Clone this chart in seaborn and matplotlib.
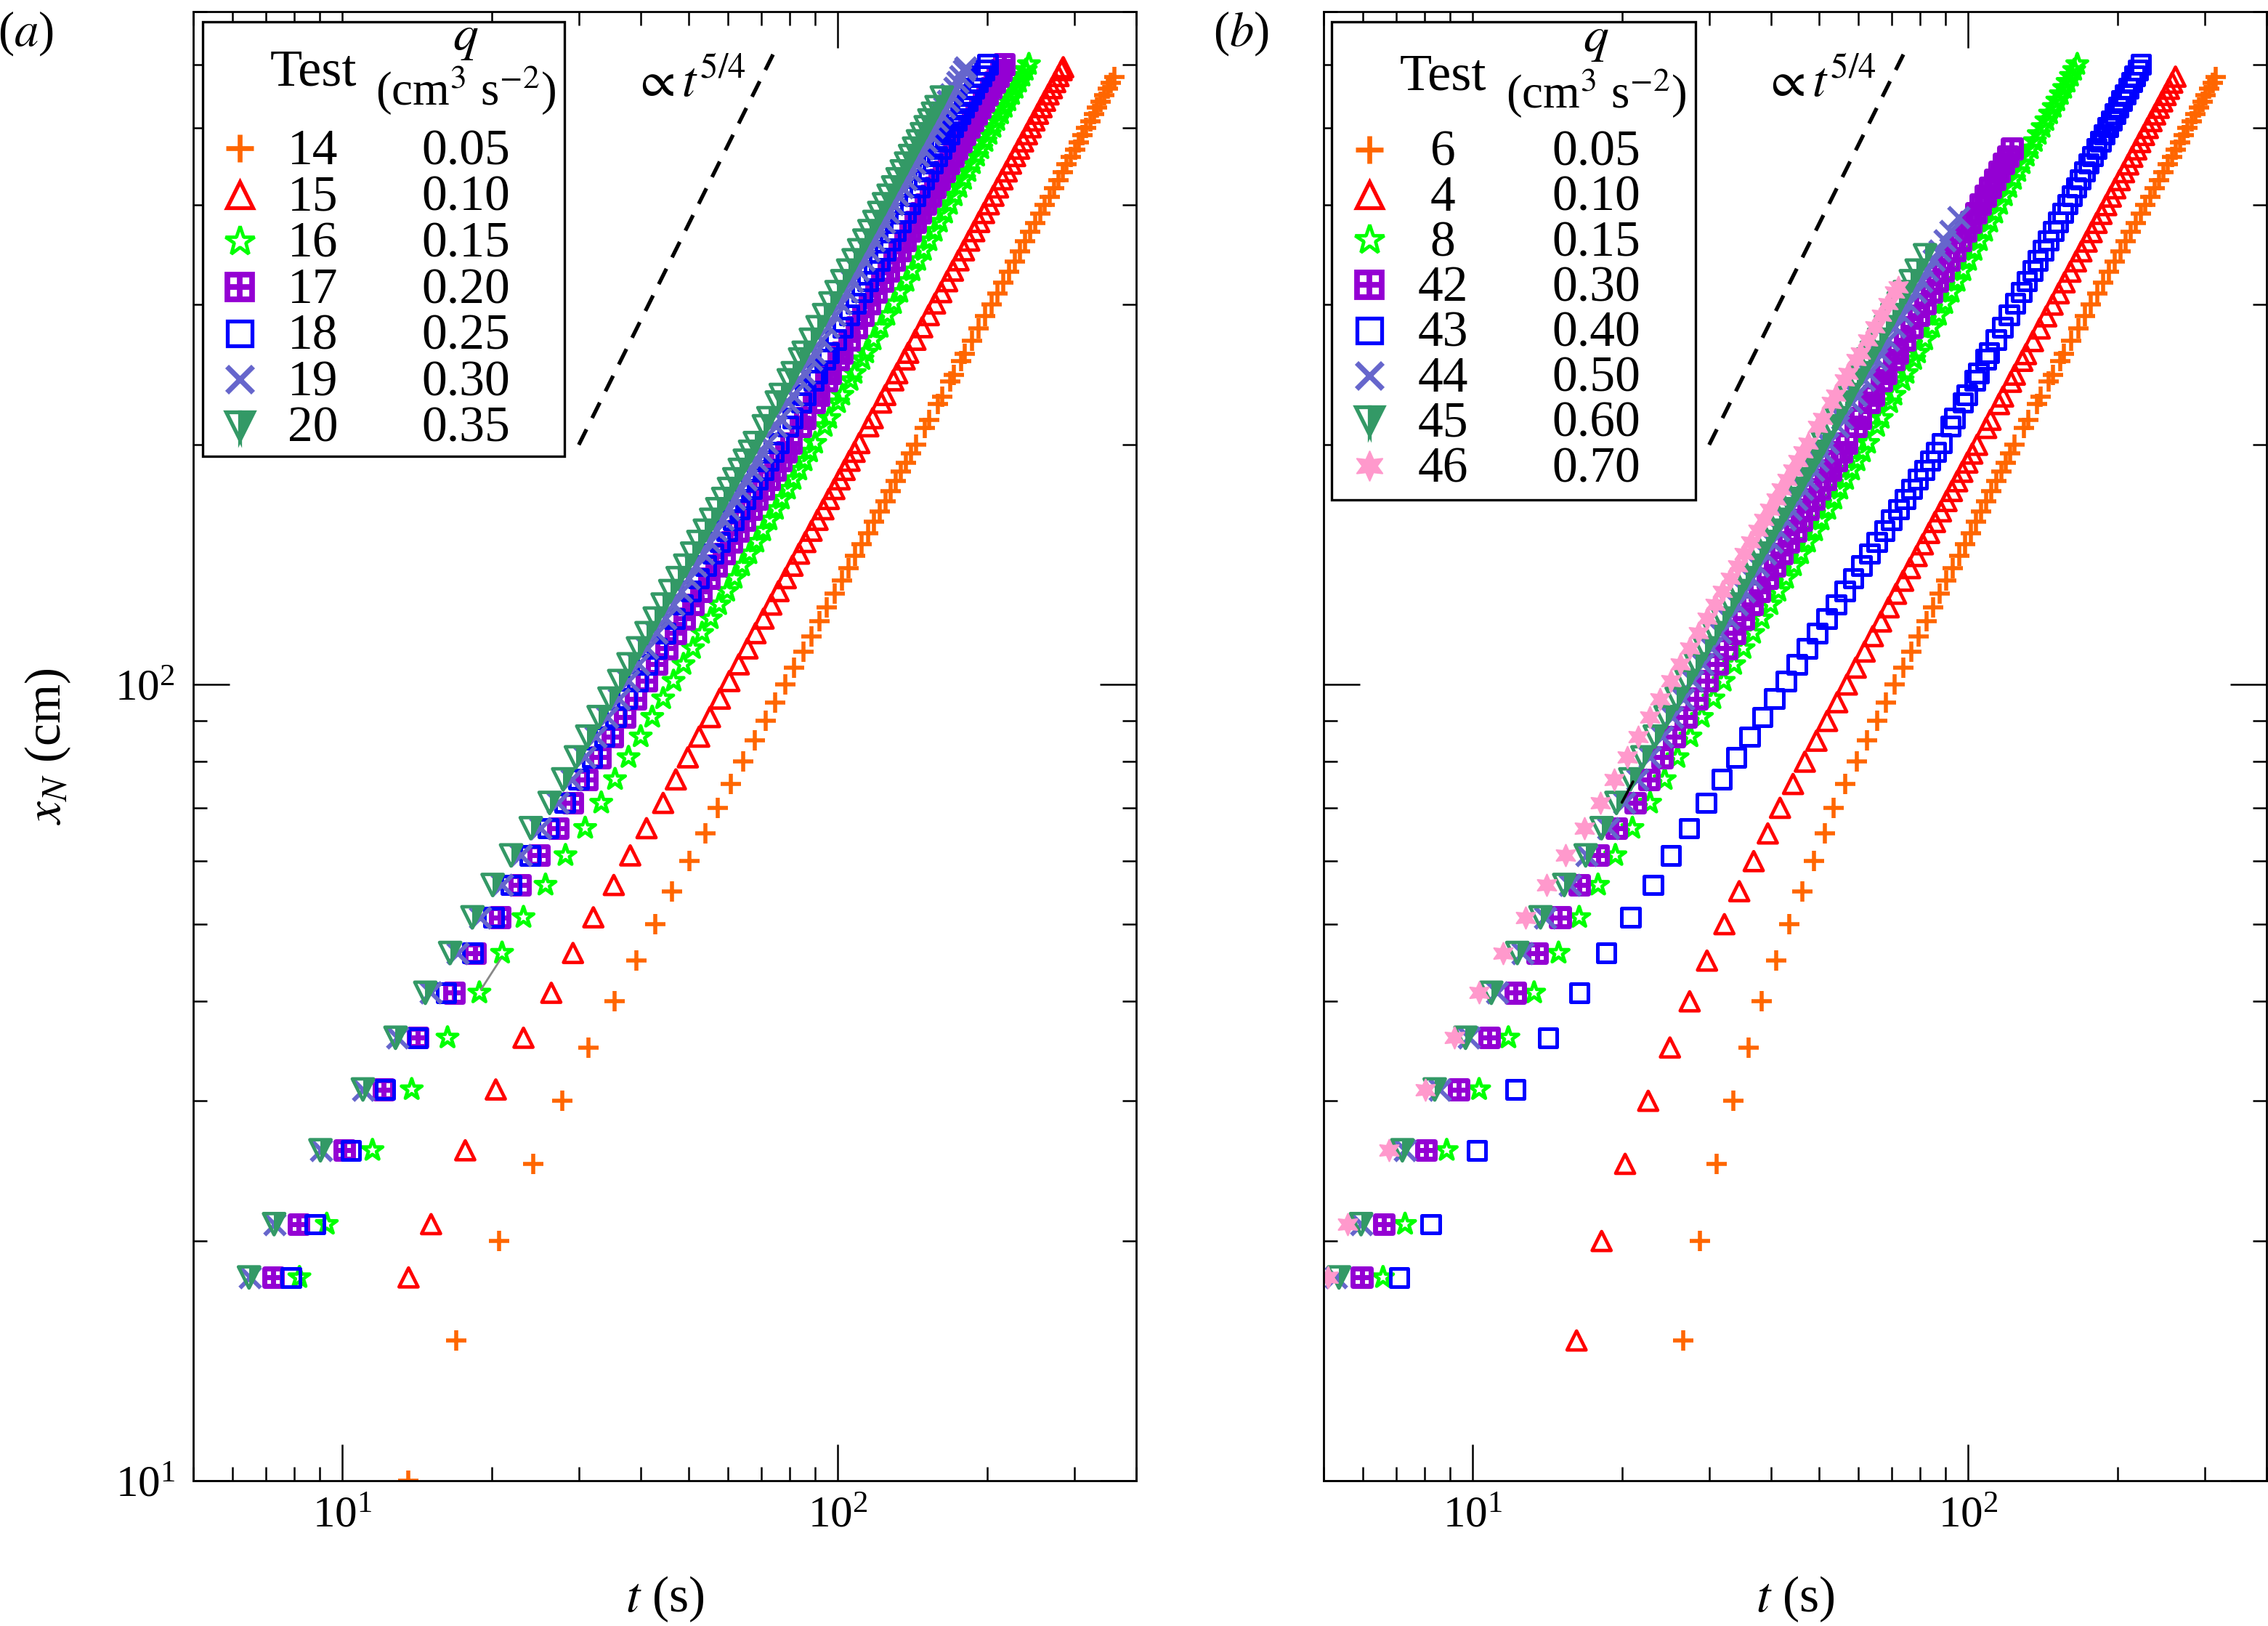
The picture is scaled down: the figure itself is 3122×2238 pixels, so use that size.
import matplotlib
matplotlib.use("Agg")
import matplotlib.pyplot as plt
import seaborn as sns
from matplotlib.lines import Line2D
from matplotlib.markers import MarkerStyle
from matplotlib.patches import Rectangle
from matplotlib.ticker import LogLocator, NullFormatter

# x_N sampling (cm): most tests start at 18 cm, tests 14/6/4 sit on multiples of 5
XN_ODD = [18, 21, 26, 31, 36, 41, 46, 51, 56, 61, 66, 71,
          76, 81, 86, 91, 96, 101, 106, 111, 116, 121, 126, 131, 136, 141, 146, 151,
          161, 171, 181, 191, 201, 216, 231, 246, 261, 281, 301, 321, 341, 361,
          381, 401, 421, 441, 461, 481, 501, 521, 541, 561, 581, 601]
XN_FIVE = [10, 15, 20, 25, 30, 35, 40, 45, 50, 55, 60, 65, 70,
           75, 80, 85, 90, 95, 100, 105, 110, 115, 120, 125, 130, 135, 140, 145, 150,
           160, 170, 180, 190, 200, 215, 230, 245, 260, 280, 300, 320, 340, 360,
           380, 400, 420, 440, 460, 480, 500, 520, 540, 560, 580, 600]
# extra readings inside the dense part of the bands
MID_ODD = [156, 166, 176, 186, 196, 211, 226, 241, 256, 271, 291, 311, 331, 351,
           371, 391, 411, 431, 451, 471, 491, 511, 531, 551, 571, 591]
MID_FIVE = [155, 165, 175, 185, 195, 210, 225, 240, 255, 270, 290, 310, 330, 350,
            370, 390, 410, 430, 450, 470, 490, 510, 530, 550, 570, 590]

# ---- panel (a): front time t (s) ----
t_14 = [13.6, 17.0, 20.7, 24.3, 27.8, 31.4, 35.4, 39.2, 42.8, 46.3, 50.2, 54.1, 57.3,
        60.8, 64.4, 67.9, 71.4, 74.8, 78.3, 81.7, 85.1, 88.4, 91.8, 95.1, 98.5, 101.8, 105.1, 108.4, 111.6,
        118.2, 124.6, 131.0, 137.4, 143.8,
        153.0, 162.2, 171.3, 180.3, 192.2, 204.0, 215.8, 227.4, 238.9, 250.3, 261.6,
        272.9, 284.1, 295.3, 306.4, 317.4, 328.4, 339.3, 350.1, 361.0]
t_15 = [13.6, 15.1, 17.7, 20.4, 23.2, 26.4, 29.2, 32.1, 35.3, 38.1, 41.1, 44.4,
        47.1, 49.8, 52.5, 55.2, 57.8, 60.4, 63.1, 65.7, 68.2, 70.8, 73.4, 75.9, 78.5, 81.0, 83.5, 86.0,
        91.0, 95.9, 100.8, 105.6, 110.5,
        117.6, 124.7, 131.8, 138.7, 148.0, 157.1, 166.2, 175.2, 184.1, 192.9, 201.7,
        210.5, 219.2, 227.9, 236.5, 245.0, 253.5, 261.9, 270.4, 278.8, 285.0]
t_16 = [8.19, 9.30, 11.5, 13.8, 16.3, 18.9, 21.0, 23.2, 25.7, 28.2, 30.9, 33.3,
        35.5, 37.8, 40.0, 42.2, 44.4, 46.6, 48.8, 51.0, 53.2, 55.4, 57.6, 59.8, 61.9, 64.1, 66.3, 68.5,
        72.8, 77.1, 81.4, 85.7, 90.0,
        96.1, 102.1, 108.1, 114.1, 122.0, 129.8, 137.6, 145.3, 153.1, 160.7, 168.4,
        176.0, 183.5, 191.0, 198.6, 206.1, 213.5, 220.9, 228.4, 235.8, 243.0]
t_17 = [7.24, 8.16, 10.1, 12.1, 14.2, 16.8, 18.5, 20.8, 22.8, 24.9, 27.2, 29.1,
        31.1, 33.1, 35.1, 37.1, 39.1, 41.1, 43.1, 45.1, 47.0, 49.0, 51.0, 53.0, 55.0, 56.9, 58.9, 60.9,
        64.8, 68.7, 72.7, 76.6, 80.5,
        85.9, 91.3, 96.6, 102.0, 109.0, 116.0, 122.9, 129.8, 136.7, 143.5, 150.3,
        157.0, 163.8, 170.5, 177.2, 183.8, 190.4, 197.0, 203.6, 210.2, 216.6]
t_18 = [7.88, 8.80, 10.4, 12.2, 14.2, 16.2, 18.3, 20.2, 21.9, 23.9, 26.0, 28.1,
        30.0, 31.9, 33.8, 35.6, 37.5, 39.4, 41.2, 43.1, 44.9, 46.8, 48.6, 50.5, 52.3, 54.1, 56.0, 57.8,
        61.5, 65.1, 68.8, 72.4, 76.0,
        81.0, 86.0, 90.9, 95.8, 102.2, 108.6, 115.0, 121.3, 127.6, 133.8, 140.0,
        146.2, 152.4, 158.5, 164.5, 170.6, 176.6, 182.5, 188.5, 194.5, 200.4]
t_19 = [6.50, 7.30, 9.05, 11.0, 12.9, 15.1, 17.1, 19.0, 21.0, 22.9, 25.1, 27.2,
        29.0, 30.8, 32.5, 34.3, 36.1, 37.8, 39.6, 41.3, 43.1, 44.8, 46.5, 48.3, 50.0, 51.7, 53.4, 55.1,
        58.5, 61.9, 65.3, 68.7, 72.0,
        76.5, 81.0, 85.4, 89.8, 95.6, 101.4, 107.0, 112.7, 118.2, 123.8, 129.2,
        134.7, 140.1, 145.4, 150.8, 156.1, 161.3, 166.6, 171.8, 176.9, 180.8]
t_20 = [6.48, 7.28, 9.03, 11.0, 12.8, 14.7, 16.5, 18.3, 20.1, 21.9, 24.0, 26.2,
        27.9, 29.6, 31.2, 32.9, 34.6, 36.2, 37.8, 39.5, 41.1, 42.7, 44.3, 45.9, 47.5, 49.2, 50.8, 52.3,
        55.5, 58.7, 61.8, 64.9, 68.0,
        72.4, 76.7, 81.1, 85.3, 91.0, 96.6, 102.1, 107.6, 113.1, 118.5, 123.9,
        129.3, 134.6, 139.9, 145.1, 150.4, 155.6, 162.1]

m_14 = [114.9, 121.4, 127.8, 134.2, 140.6, 149.9, 159.1, 168.3, 177.3, 186.3, 198.1, 209.9,
        221.6, 233.2, 244.6, 256.0, 267.3, 278.5, 289.7, 300.9, 311.9, 322.9, 333.9, 344.7, 355.6]
m_15 = [88.5, 93.5, 98.4, 103.2, 108.1, 115.2, 122.3, 129.4, 136.4, 143.4, 152.6, 161.7,
        170.7, 179.7, 188.5, 197.3, 206.1, 214.9, 223.6, 232.2, 240.8, 249.3, 257.7, 266.2,
        274.6, 282.9]
m_16 = [70.7, 75.0, 79.3, 83.6, 87.9, 94.1, 100.1, 106.1, 112.1, 118.1, 125.9, 133.7,
        141.5, 149.2, 156.9, 164.6, 172.2, 179.8, 187.3, 194.8, 202.4, 209.8, 217.2, 224.7,
        232.1, 239.4]
m_17 = [62.9, 66.8, 70.7, 74.7, 78.6, 84.1, 89.5, 94.8, 100.2, 105.5, 112.5, 119.5,
        126.4, 133.3, 140.1, 146.9, 153.7, 160.4, 167.2, 173.9, 180.5, 187.1, 193.7, 200.3,
        206.9, 213.4]
m_18 = [59.7, 63.3, 67.0, 70.6, 74.2, 79.3, 84.3, 89.3, 94.2, 99.0, 105.4, 111.8,
        118.2, 124.5, 130.7, 136.9, 143.1, 149.3, 155.5, 161.5, 167.6, 173.6, 179.6, 185.5,
        191.5, 197.5]
m_19 = [56.8, 60.2, 63.6, 67.0, 70.4, 75.0, 79.5, 83.9, 88.3, 92.7, 98.5, 104.2,
        109.9, 115.5, 121.0, 126.5, 132.0, 137.4, 142.8, 148.1, 153.5, 158.7, 164.0, 169.2,
        174.4, 179.5]
m_20 = [53.9, 57.1, 60.3, 63.4, 66.5, 70.9, 75.3, 79.6, 83.9, 88.2, 93.8, 99.4,
        104.9, 110.4, 115.8, 121.2, 126.6, 132.0, 137.3, 142.5, 147.8, 153.0, 158.2]

x_14 = XN_FIVE[:54] + MID_FIVE[:25]
x_15 = XN_ODD[:53] + [596] + MID_ODD
x_16 = XN_ODD + MID_ODD
x_17 = XN_ODD + MID_ODD
x_18 = XN_ODD + MID_ODD
x_19 = XN_ODD[:53] + [596] + MID_ODD
x_20 = XN_ODD[:50] + [546] + MID_ODD[:23]

# ---- panel (b) ----
t_6 = [26.6, 28.7, 31.1, 33.6, 36.0, 38.3, 40.9, 43.5, 46.2, 48.9, 51.4, 53.5,
       56.5, 59.5, 62.5, 65.4, 68.3, 71.1, 74.0, 76.8, 79.5, 82.3, 85.0, 87.7, 90.4, 93.1, 95.8, 98.4,
       103.7, 108.8, 114.0, 119.0, 124.0,
       132.1, 140.2, 148.2, 156.1, 166.6, 177.0, 187.3, 197.6, 207.7, 217.8, 227.9,
       237.9, 247.8, 257.6, 267.4, 277.3, 287.0, 296.7, 306.3, 316.0]
t_4 = [16.2, 18.2, 20.3, 22.6, 25.0, 27.4, 29.7, 32.2, 34.5, 36.9, 39.4, 41.7,
       44.3, 46.8, 49.4, 51.9, 54.4, 56.9, 59.3, 61.8, 64.2, 66.7, 69.1, 71.5, 73.9, 76.3, 78.7, 81.0,
       85.7, 90.4, 95.0, 99.6, 104.2,
       110.9, 117.6, 124.2, 130.8, 139.4, 148.0, 156.5, 165.0, 173.4, 181.6, 189.9,
       198.1, 206.3, 214.4, 222.4, 230.4, 238.4, 246.3, 254.2, 262.0]
t_8 = [6.59, 7.30, 8.86, 10.3, 11.8, 13.3, 14.9, 16.4, 17.9, 19.4, 21.0, 22.8,
       24.4, 25.9, 27.5, 29.0, 30.6, 32.1, 33.7, 35.2, 36.8, 38.3, 39.9, 41.4, 42.9, 44.5, 46.0, 47.5,
       50.6, 53.7, 56.7, 59.8, 62.8,
       66.9, 71.0, 75.1, 79.2, 84.6, 89.9, 95.2, 100.4, 105.6, 110.8, 116.0,
       121.1, 126.2, 131.3, 136.3, 141.3, 146.3, 151.3, 156.2, 161.2, 166.0]
t_42 = [5.97, 6.61, 8.05, 9.38, 10.8, 12.2, 13.5, 15.0, 16.4, 17.9, 19.5, 21.3,
        22.7, 24.1, 25.5, 26.9, 28.3, 29.7, 31.1, 32.5, 33.8, 35.2, 36.6, 37.9, 39.3, 40.7, 42.0, 43.4,
        46.1, 48.8, 51.5, 54.1, 56.8,
        60.6, 64.4, 68.2, 71.9, 76.9, 81.8, 86.7, 91.5, 96.4, 101.2, 105.9,
        110.7, 115.4, 120.1, 122.5]
t_43 = [7.10, 8.22, 10.2, 12.2, 14.2, 16.4, 18.6, 20.8, 23.1, 25.1, 27.3, 29.6,
        31.8, 34.0, 36.2, 38.4, 40.6, 42.9, 45.1, 47.3, 49.6, 51.8, 54.1, 56.4, 58.6, 60.9, 63.2, 65.4,
        70.0, 74.6, 79.1, 83.8, 88.4,
        93.9, 99.4, 104.9, 110.2, 117.3, 124.4, 131.3, 138.2, 145.0, 151.8, 158.5,
        165.1, 171.7, 178.3, 184.8, 191.2, 197.7, 204.1, 210.5, 216.8, 223.1]
t_44 = [5.29, 5.95, 7.29, 8.57, 9.82, 11.2, 12.6, 14.0, 15.7, 17.0, 18.8, 20.2,
        21.5, 22.8, 24.1, 25.3, 26.6, 27.8, 29.1, 30.3, 31.6, 32.8, 34.1, 35.3, 36.5, 37.7, 38.9, 40.2,
        42.6, 45.0, 47.4, 49.7, 52.1,
        55.7, 59.3, 62.9, 66.4, 71.1, 75.8, 80.5, 85.1, 89.8, 95.5]
t_45 = [5.37, 5.95, 7.21, 8.38, 9.67, 10.9, 12.3, 13.7, 15.3, 16.9, 18.2, 19.5,
        20.8, 22.0, 23.3, 24.5, 25.8, 27.0, 28.2, 29.4, 30.7, 31.9, 33.1, 34.3, 35.5, 36.7, 37.9, 39.1,
        41.5, 43.9, 46.2, 48.6, 50.9,
        54.2, 57.5, 60.7, 63.9, 68.2, 72.4, 76.6, 81.8]
t_46 = [5.10, 5.58, 6.77, 8.01, 9.17, 10.3, 11.5, 12.8, 14.1, 15.4, 16.8, 18.1,
        19.3, 20.5, 21.6, 22.8, 23.9, 25.1, 26.2, 27.4, 28.5, 29.7, 30.8, 31.9, 33.1, 34.2, 35.3, 36.4,
        38.7, 40.9, 43.1, 45.3, 47.5,
        50.8, 54.0, 57.3, 60.5, 64.8, 69.0, 72.2]

m_6 = [101.1, 106.3, 111.4, 116.5, 121.5, 129.4, 137.5, 145.5, 153.5, 161.4, 171.8, 182.2,
       192.5, 202.7, 212.8, 222.9, 232.9, 242.9, 252.7, 262.5, 272.4, 282.2, 291.9, 301.5, 311.2]
m_4 = [83.4, 88.1, 92.7, 97.3, 101.9, 108.7, 115.4, 122.0, 128.6, 135.1, 143.7, 152.3,
       160.8, 169.2, 177.5, 185.8, 194.0, 202.2, 210.4, 218.4, 226.4, 234.4, 242.4, 250.3, 258.1]
m_8 = [49.1, 52.2, 55.2, 58.3, 61.3, 65.5, 69.6, 73.7, 77.8, 81.9, 87.3, 92.6,
       97.8, 103.0, 108.2, 113.4, 118.6, 123.7, 128.8, 133.8, 138.8, 143.8, 148.8, 153.8,
       158.7, 163.6]
m_42 = [44.8, 47.5, 50.2, 52.8, 55.5, 59.3, 63.1, 66.9, 70.7, 74.4, 79.4, 84.3,
        89.1, 94.0, 98.8, 103.6, 108.3, 113.1, 117.8]
m_43 = [67.7, 72.3, 76.9, 81.5, 86.1, 92.1, 97.6, 103.1, 108.4, 113.8, 120.9, 127.9,
        134.8, 141.6, 148.4, 155.2, 161.8, 168.4, 175.0, 181.6, 188.0, 194.5, 200.9, 207.3,
        213.7, 220.0]
m_44 = [41.4, 43.8, 46.2, 48.6, 50.9, 54.5, 58.1, 61.7, 65.2, 68.8, 73.5, 78.2, 82.8, 87.5, 92.1]
m_45 = [40.3, 42.7, 45.1, 47.4, 49.8, 53.1, 56.4, 59.6, 62.8, 66.1, 70.3, 74.5, 78.7]
m_46 = [37.6, 39.8, 42.0, 44.2, 46.4, 49.7, 52.9, 56.2, 59.4, 62.7, 66.9, 71.1]

x_6 = XN_FIVE[1:54] + MID_FIVE[:25]
x_4 = XN_FIVE[1:54] + MID_FIVE[:25]
x_8 = XN_ODD + MID_ODD
x_42 = XN_ODD[:47] + [471] + MID_ODD[:19]
x_43 = XN_ODD + MID_ODD
x_44 = XN_ODD[:42] + [386] + MID_ODD[:15]
x_45 = XN_ODD[:40] + [346] + MID_ODD[:13]
x_46 = XN_ODD[:39] + [316] + MID_ODD[:12]

# legend table
tests_a = ["14", "15", "16", "17", "18", "19", "20"]
q_a = ["0.05", "0.10", "0.15", "0.20", "0.25", "0.30", "0.35"]
tests_b = ["6", "4", "8", "42", "43", "44", "45", "46"]
q_b = ["0.05", "0.10", "0.15", "0.30", "0.40", "0.50", "0.60", "0.70"]

# t^(5/4) guide and two stray segments in the original
guide_t = [30, 75]
guide_x = [200, 629]
seg_a_t = [19.05, 20.86]
seg_a_x = [41.4, 45.2]
seg_b_t = [20.0, 21.06]
seg_b_x = [71.1, 75.5]

sns.set_theme(style="ticks", rc={"axes.edgecolor": "black", "xtick.color": "black",
                                 "ytick.color": "black", "text.color": "black",
                                 "axes.labelcolor": "black"})
plt.rcParams["font.family"] = ["Liberation Serif", "DejaVu Serif"]
plt.rcParams["mathtext.fontset"] = "stix"

ORANGE = "#ff6600"
RED = "#ff0000"
LIME = "#00ff00"
PURPLE = "#9400d3"
BLUE = "#0000ff"
SLATE = "#6666cc"
SEA = "#339966"
PINK = "#ff99cc"

W, H = 3122, 2238
fig = plt.figure(figsize=(W / 200, H / 200), dpi=200)


def fx(px):
    return px / W


def fy(py):
    return 1 - py / H


ax_a = fig.add_axes([fx(266), fy(2038), fx(1298), 2022 / H])
ax_b = fig.add_axes([fx(1822), fy(2038), fx(1298), 2022 / H])


def draw(ax, t, x, kind, color):
    assert len(t) == len(x), (kind, color, len(t), len(x))
    kw = dict(x=t, y=x, ax=ax, legend=False, color=color)
    if kind == "plus":
        sns.scatterplot(**kw, marker="+", s=95, linewidth=2.0)
    elif kind == "tri":
        sns.scatterplot(**kw, marker="^", s=88, facecolor="none", edgecolor=color, linewidth=1.7)
    elif kind == "star":
        sns.scatterplot(**kw, marker="*", s=115, facecolor="none", edgecolor=color, linewidth=1.7)
    elif kind == "boxplus":
        sns.scatterplot(**kw, marker="s", s=76, facecolor="none", edgecolor=color, linewidth=2.5)
        sns.scatterplot(**kw, marker="+", s=76, linewidth=2.5)
    elif kind == "square":
        sns.scatterplot(**kw, marker="s", s=78, facecolor="none", edgecolor=color, linewidth=1.8)
    elif kind == "cross":
        sns.scatterplot(**kw, marker="x", s=105, linewidth=2.1)
    elif kind == "halfdown":
        sns.scatterplot(**kw, marker=MarkerStyle("v", fillstyle="right"), s=110,
                        edgecolor="none", linewidth=0)
        sns.scatterplot(**kw, marker="v", s=110, facecolor="none", edgecolor=color, linewidth=1.7)
    elif kind == "hexstar":
        sns.scatterplot(**kw, marker=(6, 1, 0), s=115, edgecolor=color, linewidth=0.8)


draw(ax_a, t_14 + m_14, x_14, "plus", ORANGE)
draw(ax_a, t_15 + m_15, x_15, "tri", RED)
draw(ax_a, t_16 + m_16, x_16, "star", LIME)
draw(ax_a, t_17 + m_17, x_17, "boxplus", PURPLE)
draw(ax_a, t_18 + m_18, x_18, "square", BLUE)
draw(ax_a, t_19 + m_19, x_19, "cross", SLATE)
draw(ax_a, t_20 + m_20, x_20, "halfdown", SEA)

draw(ax_b, t_6 + m_6, x_6, "plus", ORANGE)
draw(ax_b, t_4 + m_4, x_4, "tri", RED)
draw(ax_b, t_8 + m_8, x_8, "star", LIME)
draw(ax_b, t_42 + m_42, x_42, "boxplus", PURPLE)
draw(ax_b, t_43 + m_43, x_43, "square", BLUE)
draw(ax_b, t_44 + m_44, x_44, "cross", SLATE)
draw(ax_b, t_45 + m_45, x_45, "halfdown", SEA)
draw(ax_b, t_46 + m_46, x_46, "hexstar", PINK)

for ax in (ax_a, ax_b):
    sns.lineplot(x=guide_t, y=guide_x, ax=ax, color="black", linewidth=1.9,
                 linestyle=(0, (4.5, 3.3)), sort=False, estimator=None)
sns.lineplot(x=seg_a_t, y=seg_a_x, ax=ax_a, color="#888888", linewidth=1.0,
             sort=False, estimator=None)
sns.lineplot(x=seg_b_t, y=seg_b_x, ax=ax_b, color="black", linewidth=1.3,
             sort=False, estimator=None)

for ax in (ax_a, ax_b):
    ax.set_xscale("log")
    ax.set_yscale("log")
    ax.set_xlim(5, 400)
    ax.set_ylim(10, 700)
    for axis in (ax.xaxis, ax.yaxis):
        axis.set_major_locator(LogLocator(base=10, numticks=10))
        axis.set_minor_locator(LogLocator(base=10, subs=(2, 3, 4, 5, 6, 7, 8, 9), numticks=30))
        axis.set_minor_formatter(NullFormatter())
    ax.tick_params(which="both", direction="in", top=True, right=True, width=0.9)
    ax.tick_params(which="major", length=18, labelsize=22)
    ax.tick_params(which="minor", length=7)
    ax.tick_params(axis="x", pad=7.5)
    ax.tick_params(axis="y", pad=9)
    for sp in ax.spines.values():
        sp.set_linewidth(1.0)
    ax.set_xlabel(r"$t$ (s)", fontsize=25)
    ax.xaxis.set_label_coords(0.5, -0.064)
    ax.set_ylabel("")
    ax.text(38.5, 548, r"$\propto t^{5/4}$", fontsize=25, ha="left", va="baseline")

ax_a.set_ylabel(r"$x_N$ (cm)", fontsize=25)
ax_a.yaxis.set_label_coords(-0.128, 0.5)
ax_b.tick_params(axis="y", labelleft=False)

fig.text(fx(35), fy(46), r"($a$)", fontsize=24, ha="center", va="center")
fig.text(fx(1708), fy(46), r"($b$)", fontsize=24, ha="center", va="center")


def legend_marker(px, py, kind, color):
    kw = dict(transform=fig.transFigure, linestyle="none")
    pos = ([fx(px)], [fy(py)])
    arts = []
    if kind == "plus":
        arts.append(Line2D(*pos, marker="+", ms=14, mew=2.4, color=color, **kw))
    elif kind == "tri":
        arts.append(Line2D(*pos, marker="^", ms=13, mew=1.9, mfc="none", mec=color, **kw))
    elif kind == "star":
        arts.append(Line2D(*pos, marker="*", ms=15, mew=1.7, mfc="none", mec=color, **kw))
    elif kind == "boxplus":
        arts.append(Line2D(*pos, marker="s", ms=12.5, mew=2.8, mfc="none", mec=color, **kw))
        arts.append(Line2D(*pos, marker="+", ms=12.5, mew=2.8, color=color, **kw))
    elif kind == "square":
        arts.append(Line2D(*pos, marker="s", ms=12.5, mew=1.9, mfc="none", mec=color, **kw))
    elif kind == "cross":
        arts.append(Line2D(*pos, marker="x", ms=13, mew=2.6, color=color, **kw))
    elif kind == "halfdown":
        arts.append(Line2D(*pos, marker="v", ms=14, mew=1.9, fillstyle="right", mfc=color,
                           mfcalt="white", mec=color, **kw))
    elif kind == "hexstar":
        arts.append(Line2D(*pos, marker=(6, 1, 0), ms=15, mew=0.6, mfc=color, mec=color, **kw))
    for a in arts:
        fig.add_artist(a)


def legend_table(box, mark_x, test_x, q_x, head_y, first_base, step, tests, qs, kinds, colors):
    x0, y0, x1, y1 = box
    fig.add_artist(Rectangle((fx(x0), fy(y1)), fx(x1) - fx(x0), fy(y0) - fy(y1),
                             transform=fig.transFigure, facecolor="white",
                             edgecolor="black", linewidth=1.2))
    fig.text(fx(test_x), fy(head_y[0]), "Test", fontsize=26, ha="center", va="baseline")
    fig.text(fx(q_x), fy(head_y[1]), r"$q$", fontsize=25, ha="center", va="baseline")
    fig.text(fx(q_x), fy(head_y[2]), r"(cm$^3$ s$^{-2}$)", fontsize=23.5,
             ha="center", va="baseline")
    for i, (tt, qq, kd, cl) in enumerate(zip(tests, qs, kinds, colors)):
        base = first_base + i * step
        legend_marker(mark_x, base - 22, kd, cl)
        fig.text(fx(test_x), fy(base), tt, fontsize=25, ha="center", va="baseline")
        fig.text(fx(q_x), fy(base), qq, fontsize=25, ha="center", va="baseline")


kinds_a = ["plus", "tri", "star", "boxplus", "square", "cross", "halfdown"]
colors_a = [ORANGE, RED, LIME, PURPLE, BLUE, SLATE, SEA]
kinds_b = kinds_a + ["hexstar"]
colors_b = colors_a + [PINK]

legend_table((279, 30, 777, 628), 330, 431, 641, (118, 69, 145), 226.4, 63.6,
             tests_a, q_a, kinds_a, colors_a)
legend_table((1833, 30, 2334, 688), 1885, 1986, 2197, (123, 71, 149), 227.7, 62.2,
             tests_b, q_b, kinds_b, colors_b)

fig.savefig("out.png", dpi=200)
